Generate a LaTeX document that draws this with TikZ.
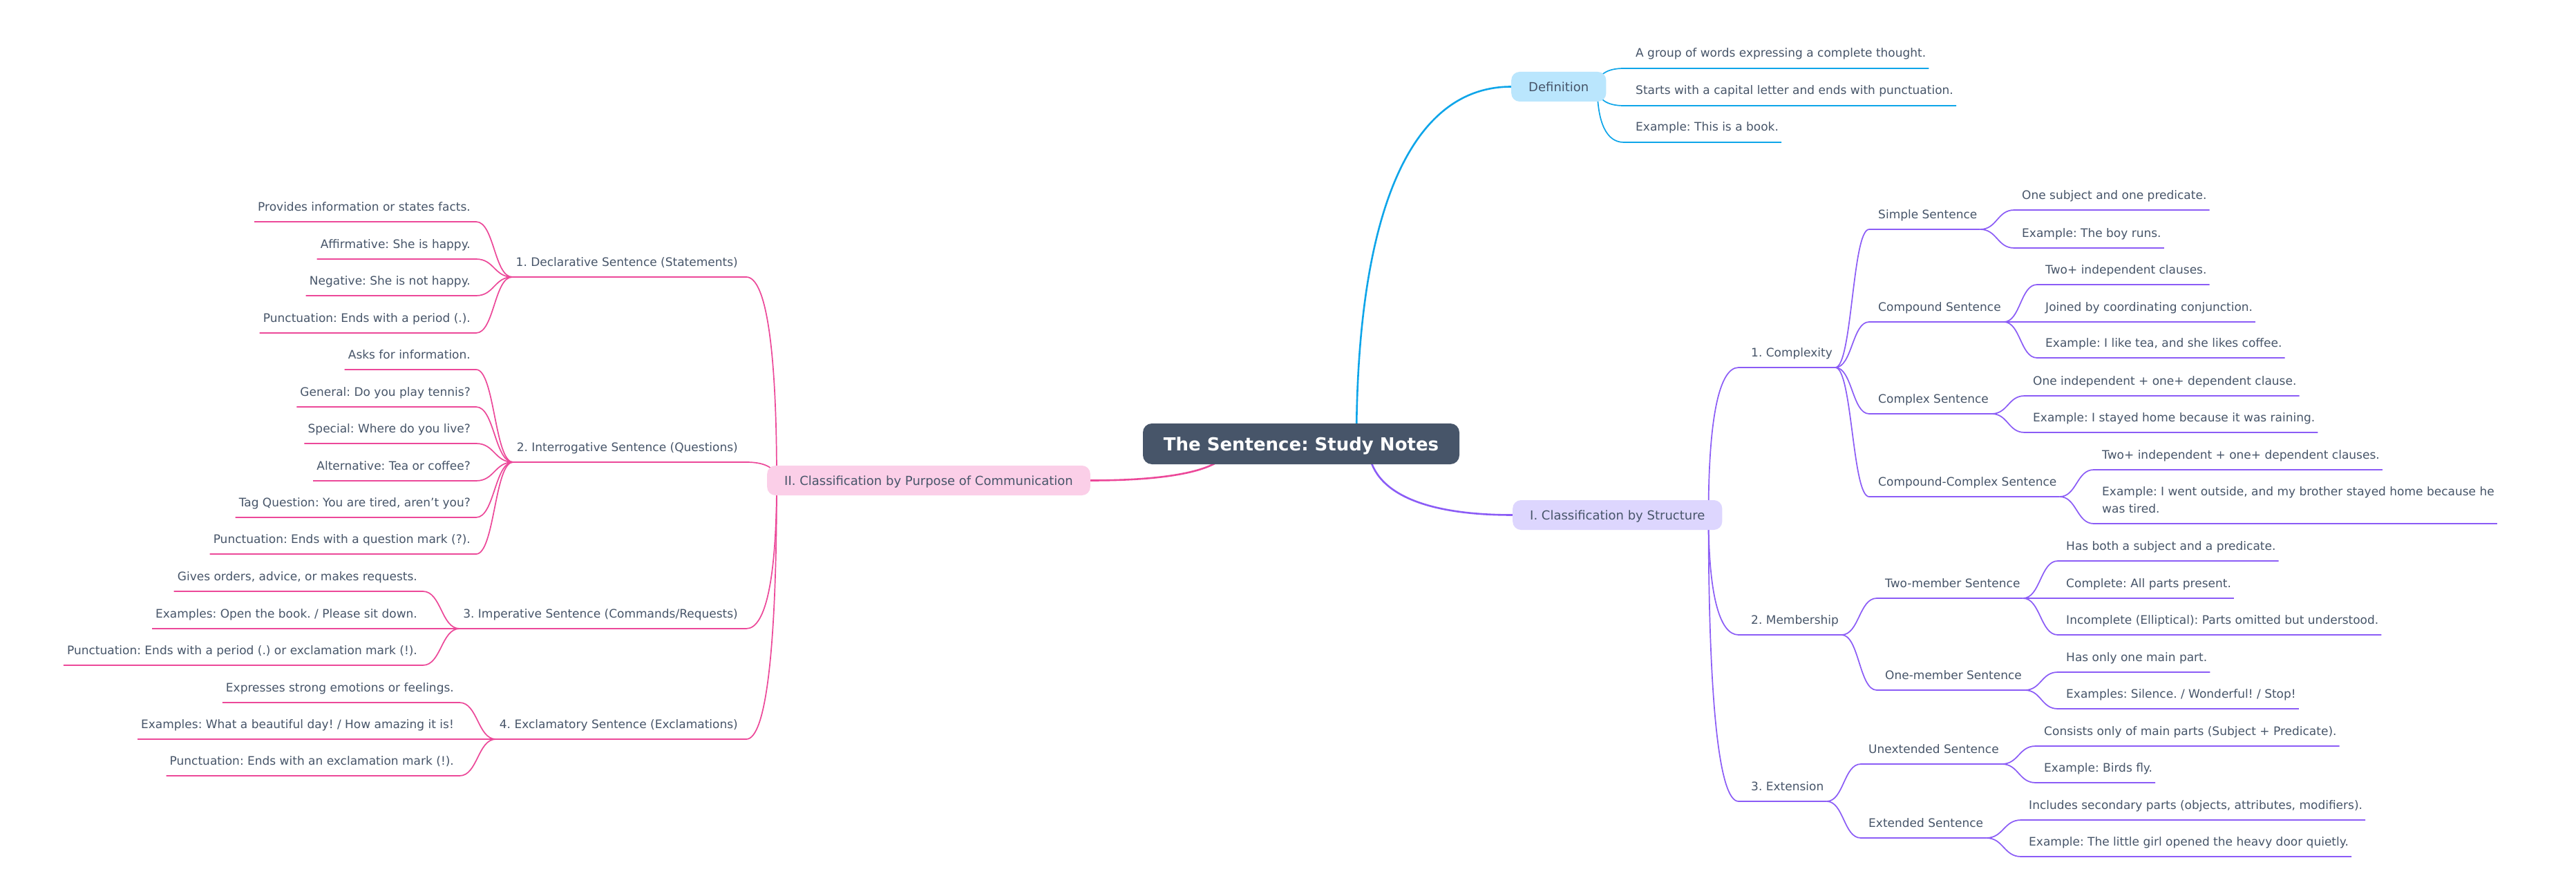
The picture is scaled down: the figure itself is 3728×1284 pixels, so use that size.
\documentclass[tikz,border=0pt]{standalone}
\usepackage{fontspec}
\setmainfont{DejaVu Sans}
\usetikzlibrary{calc}
\definecolor{slate}{HTML}{475569}
\definecolor{cblue}{HTML}{0EA5E9}
\definecolor{fblue}{HTML}{BAE6FD}
\definecolor{cpurp}{HTML}{8B5CF6}
\definecolor{fpurp}{HTML}{DDD6FE}
\definecolor{cpink}{HTML}{EC4899}
\definecolor{fpink}{HTML}{FBCFE8}
\pgfdeclarelayer{back}
\pgfdeclarelayer{edges}
\pgfsetlayers{back,edges,main}
\tikzset{
  txt/.style={font=\fontsize{17}{25}\selectfont\frenchspacing, text=slate, inner ysep=2pt},
  rtxt/.style={txt, anchor=base west, inner xsep=4pt},
  ltxt/.style={txt, anchor=base east, inner xsep=5pt},
  box/.style={font=\fontsize{18}{22}\selectfont\frenchspacing, text=slate, rounded corners=12pt, inner xsep=25pt, inner ysep=0pt, minimum height=43pt, text height=15.8pt, text depth=2.2pt},
  rootbox/.style={fill=slate, text=white, font=\fontsize{26}{30}\selectfont\bfseries\frenchspacing, rounded corners=13pt, minimum width=458pt, minimum height=59pt, inner sep=0pt, text height=22.6pt, text depth=3.4pt},
  edgeline/.style={line width=1.7pt},
  rootedge/.style={line width=2.6pt},
}
% right-side text node: name, underline start x, underline y, text x, text
\newcommand{\mmR}[5]{%
  \node[rtxt] (#1) at (#4-4, #3-16) {#5};
  \coordinate (#1s) at (#2, #3);
  \coordinate (#1h) at (#1s -| #1.east);}
% left-side text node: name, underline end x, underline y, text right x, text
\newcommand{\mmL}[5]{%
  \node[ltxt] (#1) at (#4+5, #3-16) {#5};
  \coordinate (#1s) at (#2, #3);
  \coordinate (#1h) at (#1s -| #1.west);}
% S-shaped connector from a hub to a child, then its underline
\newcommand{\mmS}[3]{%
  \draw[edgeline, #1] (#2) .. controls ($(#2)!0.5!(#2 -| #3s)$) and ($(#3s)!0.5!(#3s -| #2)$) .. (#3s) -- (#3h);}
% corner connector from a box to a child, then its underline
\newcommand{\mmC}[3]{%
  \draw[edgeline, #1] (#2) .. controls ($(#2)!0.65!(#2 |- #3s)$) and ($(#3s)!0.65!(#2 |- #3s)$) .. (#3s) -- (#3h);}
\begin{document}
\frenchspacing
\begin{tikzpicture}[x=1pt,y=-1pt]
\begin{pgfonlayer}{back}
\fill[white] (0,0) rectangle (3728,1284);
\end{pgfonlayer}
\useasboundingbox (0,0) rectangle (3728,1284);

\node[rootbox] (root) at (1883,642.5) {The Sentence: Study Notes};
\node[box, fill=fblue, anchor=west] (def) at (2187,125.5) {Definition};
\node[box, fill=fpurp, anchor=west] (str) at (2189,745.5) {I. Classification by Structure};
\node[box, fill=fpink, anchor=east] (pur) at (1578,695.5) {II. Classification by Purpose of Communication};

\coordinate (rB) at ($(root.center)+(80,0)$);
\coordinate (rP) at ($(root.center)+(97,0)$);
\coordinate (rK) at ($(root.center)+(-103,0)$);
\coordinate (defS) at ($(def.east)+(-13,0)$);
\coordinate (strS) at ($(str.east)+(-20,0)$);
\coordinate (purS) at ($(pur.west)+(14,0)$);

% Definition
\mmR{d1}{2350}{99}{2367}{A group of words expressing a complete thought.}
\mmR{d2}{2350}{153}{2367}{Starts with a capital letter and ends with punctuation.}
\mmR{d3}{2350}{206}{2367}{Example: This is a book.}

% I. Structure
\mmR{c1}{2516}{532}{2534}{1. Complexity}
\mmR{c2}{2516}{919}{2534}{2. Membership}
\mmR{c3}{2516}{1160}{2534}{3. Extension}

\mmR{s1}{2705}{332}{2718}{Simple Sentence}
\mmR{s2}{2705}{466}{2718}{Compound Sentence}
\mmR{s3}{2705}{599}{2718}{Complex Sentence}
\mmR{s4}{2705}{719}{2718}{Compound-Complex Sentence}

\mmR{sa1}{2915}{304}{2926}{One subject and one predicate.}
\mmR{sa2}{2915}{359}{2926}{Example: The boy runs.}
\mmR{sb1}{2948}{412}{2960}{Two+ independent clauses.}
\mmR{sb2}{2948}{466}{2960}{Joined by coordinating conjunction.}
\mmR{sb3}{2948}{518}{2960}{Example: I like tea, and she likes coffee.}
\mmR{sc1}{2930}{573}{2942}{One independent + one+ dependent clause.}
\mmR{sc2}{2930}{626}{2942}{Example: I stayed home because it was raining.}
\mmR{sd1}{3030}{680}{3042}{Two+ independent + one+ dependent clauses.}
\mmR{sd2}{3030}{758}{3042}{\begin{tabular}[b]{@{}l@{}}Example: I went outside, and my brother stayed home because he\\was tired.\end{tabular}}

\mmR{m1}{2716}{866}{2728}{Two-member Sentence}
\mmR{m2}{2716}{999}{2728}{One-member Sentence}
\mmR{ma1}{2978}{812}{2990}{Has both a subject and a predicate.}
\mmR{ma2}{2978}{866}{2990}{Complete: All parts present.}
\mmR{ma3}{2978}{919}{2990}{Incomplete (Elliptical): Parts omitted but understood.}
\mmR{mb1}{2978}{973}{2990}{Has only one main part.}
\mmR{mb2}{2978}{1026}{2990}{Examples: Silence. / Wonderful! / Stop!}

\mmR{e1}{2693}{1106}{2704}{Unextended Sentence}
\mmR{e2}{2693}{1213}{2704}{Extended Sentence}
\mmR{ea1}{2946}{1080}{2958}{Consists only of main parts (Subject + Predicate).}
\mmR{ea2}{2946}{1133}{2958}{Example: Birds fly.}
\mmR{eb1}{2925}{1187}{2936}{Includes secondary parts (objects, attributes, modifiers).}
\mmR{eb2}{2925}{1240}{2936}{Example: The little girl opened the heavy door quietly.}

% II. Purpose
\mmL{p1}{1080}{401}{1068}{1. Declarative Sentence (Statements)}
\mmL{p2}{1080}{669}{1068}{2. Interrogative Sentence (Questions)}
\mmL{p3}{1080}{910}{1068}{3. Imperative Sentence (Commands/Requests)}
\mmL{p4}{1080}{1070}{1068}{4. Exclamatory Sentence (Exclamations)}

\mmL{pa1}{689}{321}{681}{Provides information or states facts.}
\mmL{pa2}{689}{375}{681}{Affirmative: She is happy.}
\mmL{pa3}{689}{428}{681}{Negative: She is not happy.}
\mmL{pa4}{689}{482}{681}{Punctuation: Ends with a period (.).}

\mmL{pb1}{689}{535}{681}{Asks for information.}
\mmL{pb2}{689}{589}{681}{General: Do you play tennis?}
\mmL{pb3}{689}{642}{681}{Special: Where do you live?}
\mmL{pb4}{689}{696}{681}{Alternative: Tea or coffee?}
\mmL{pb5}{689}{749}{681}{Tag Question: You are tired, aren’t you?}
\mmL{pb6}{689}{802}{681}{Punctuation: Ends with a question mark (?).}

\mmL{pc1}{612}{856}{604}{Gives orders, advice, or makes requests.}
\mmL{pc2}{612}{910}{604}{Examples: Open the book. / Please sit down.}
\mmL{pc3}{612}{963}{604}{Punctuation: Ends with a period (.) or exclamation mark (!).}

\mmL{pd1}{665}{1017}{657}{Expresses strong emotions or feelings.}
\mmL{pd2}{665}{1070}{657}{Examples: What a beautiful day! / How amazing it is!}
\mmL{pd3}{665}{1123}{657}{Punctuation: Ends with an exclamation mark (!).}

\begin{pgfonlayer}{edges}
\draw[rootedge, cblue] (rB) .. controls ($(rB)!0.65!(rB |- def.west)$) and ($(def.west)!0.65!(rB |- def.west)$) .. (def.west);
\draw[rootedge, cpurp] (rP) .. controls ($(rP)!0.65!(rP |- str.west)$) and ($(str.west)!0.65!(rP |- str.west)$) .. (str.west);
\draw[rootedge, cpink] (rK) .. controls ($(rK)!0.65!(rK |- pur.east)$) and ($(pur.east)!0.65!(rK |- pur.east)$) .. (pur.east);

\mmC{cblue}{defS}{d1}
\mmC{cblue}{defS}{d2}
\mmC{cblue}{defS}{d3}

\mmC{cpurp}{strS}{c1}
\mmC{cpurp}{strS}{c2}
\mmC{cpurp}{strS}{c3}
\mmS{cpurp}{c1h}{s1}
\mmS{cpurp}{c1h}{s2}
\mmS{cpurp}{c1h}{s3}
\mmS{cpurp}{c1h}{s4}
\mmS{cpurp}{s1h}{sa1}
\mmS{cpurp}{s1h}{sa2}
\mmS{cpurp}{s2h}{sb1}
\mmS{cpurp}{s2h}{sb2}
\mmS{cpurp}{s2h}{sb3}
\mmS{cpurp}{s3h}{sc1}
\mmS{cpurp}{s3h}{sc2}
\mmS{cpurp}{s4h}{sd1}
\mmS{cpurp}{s4h}{sd2}
\mmS{cpurp}{c2h}{m1}
\mmS{cpurp}{c2h}{m2}
\mmS{cpurp}{m1h}{ma1}
\mmS{cpurp}{m1h}{ma2}
\mmS{cpurp}{m1h}{ma3}
\mmS{cpurp}{m2h}{mb1}
\mmS{cpurp}{m2h}{mb2}
\mmS{cpurp}{c3h}{e1}
\mmS{cpurp}{c3h}{e2}
\mmS{cpurp}{e1h}{ea1}
\mmS{cpurp}{e1h}{ea2}
\mmS{cpurp}{e2h}{eb1}
\mmS{cpurp}{e2h}{eb2}

\mmC{cpink}{purS}{p1}
\mmC{cpink}{purS}{p2}
\mmC{cpink}{purS}{p3}
\mmC{cpink}{purS}{p4}
\mmS{cpink}{p1h}{pa1}
\mmS{cpink}{p1h}{pa2}
\mmS{cpink}{p1h}{pa3}
\mmS{cpink}{p1h}{pa4}
\mmS{cpink}{p2h}{pb1}
\mmS{cpink}{p2h}{pb2}
\mmS{cpink}{p2h}{pb3}
\mmS{cpink}{p2h}{pb4}
\mmS{cpink}{p2h}{pb5}
\mmS{cpink}{p2h}{pb6}
\mmS{cpink}{p3h}{pc1}
\mmS{cpink}{p3h}{pc2}
\mmS{cpink}{p3h}{pc3}
\mmS{cpink}{p4h}{pd1}
\mmS{cpink}{p4h}{pd2}
\mmS{cpink}{p4h}{pd3}
\end{pgfonlayer}
\end{tikzpicture}
\end{document}
